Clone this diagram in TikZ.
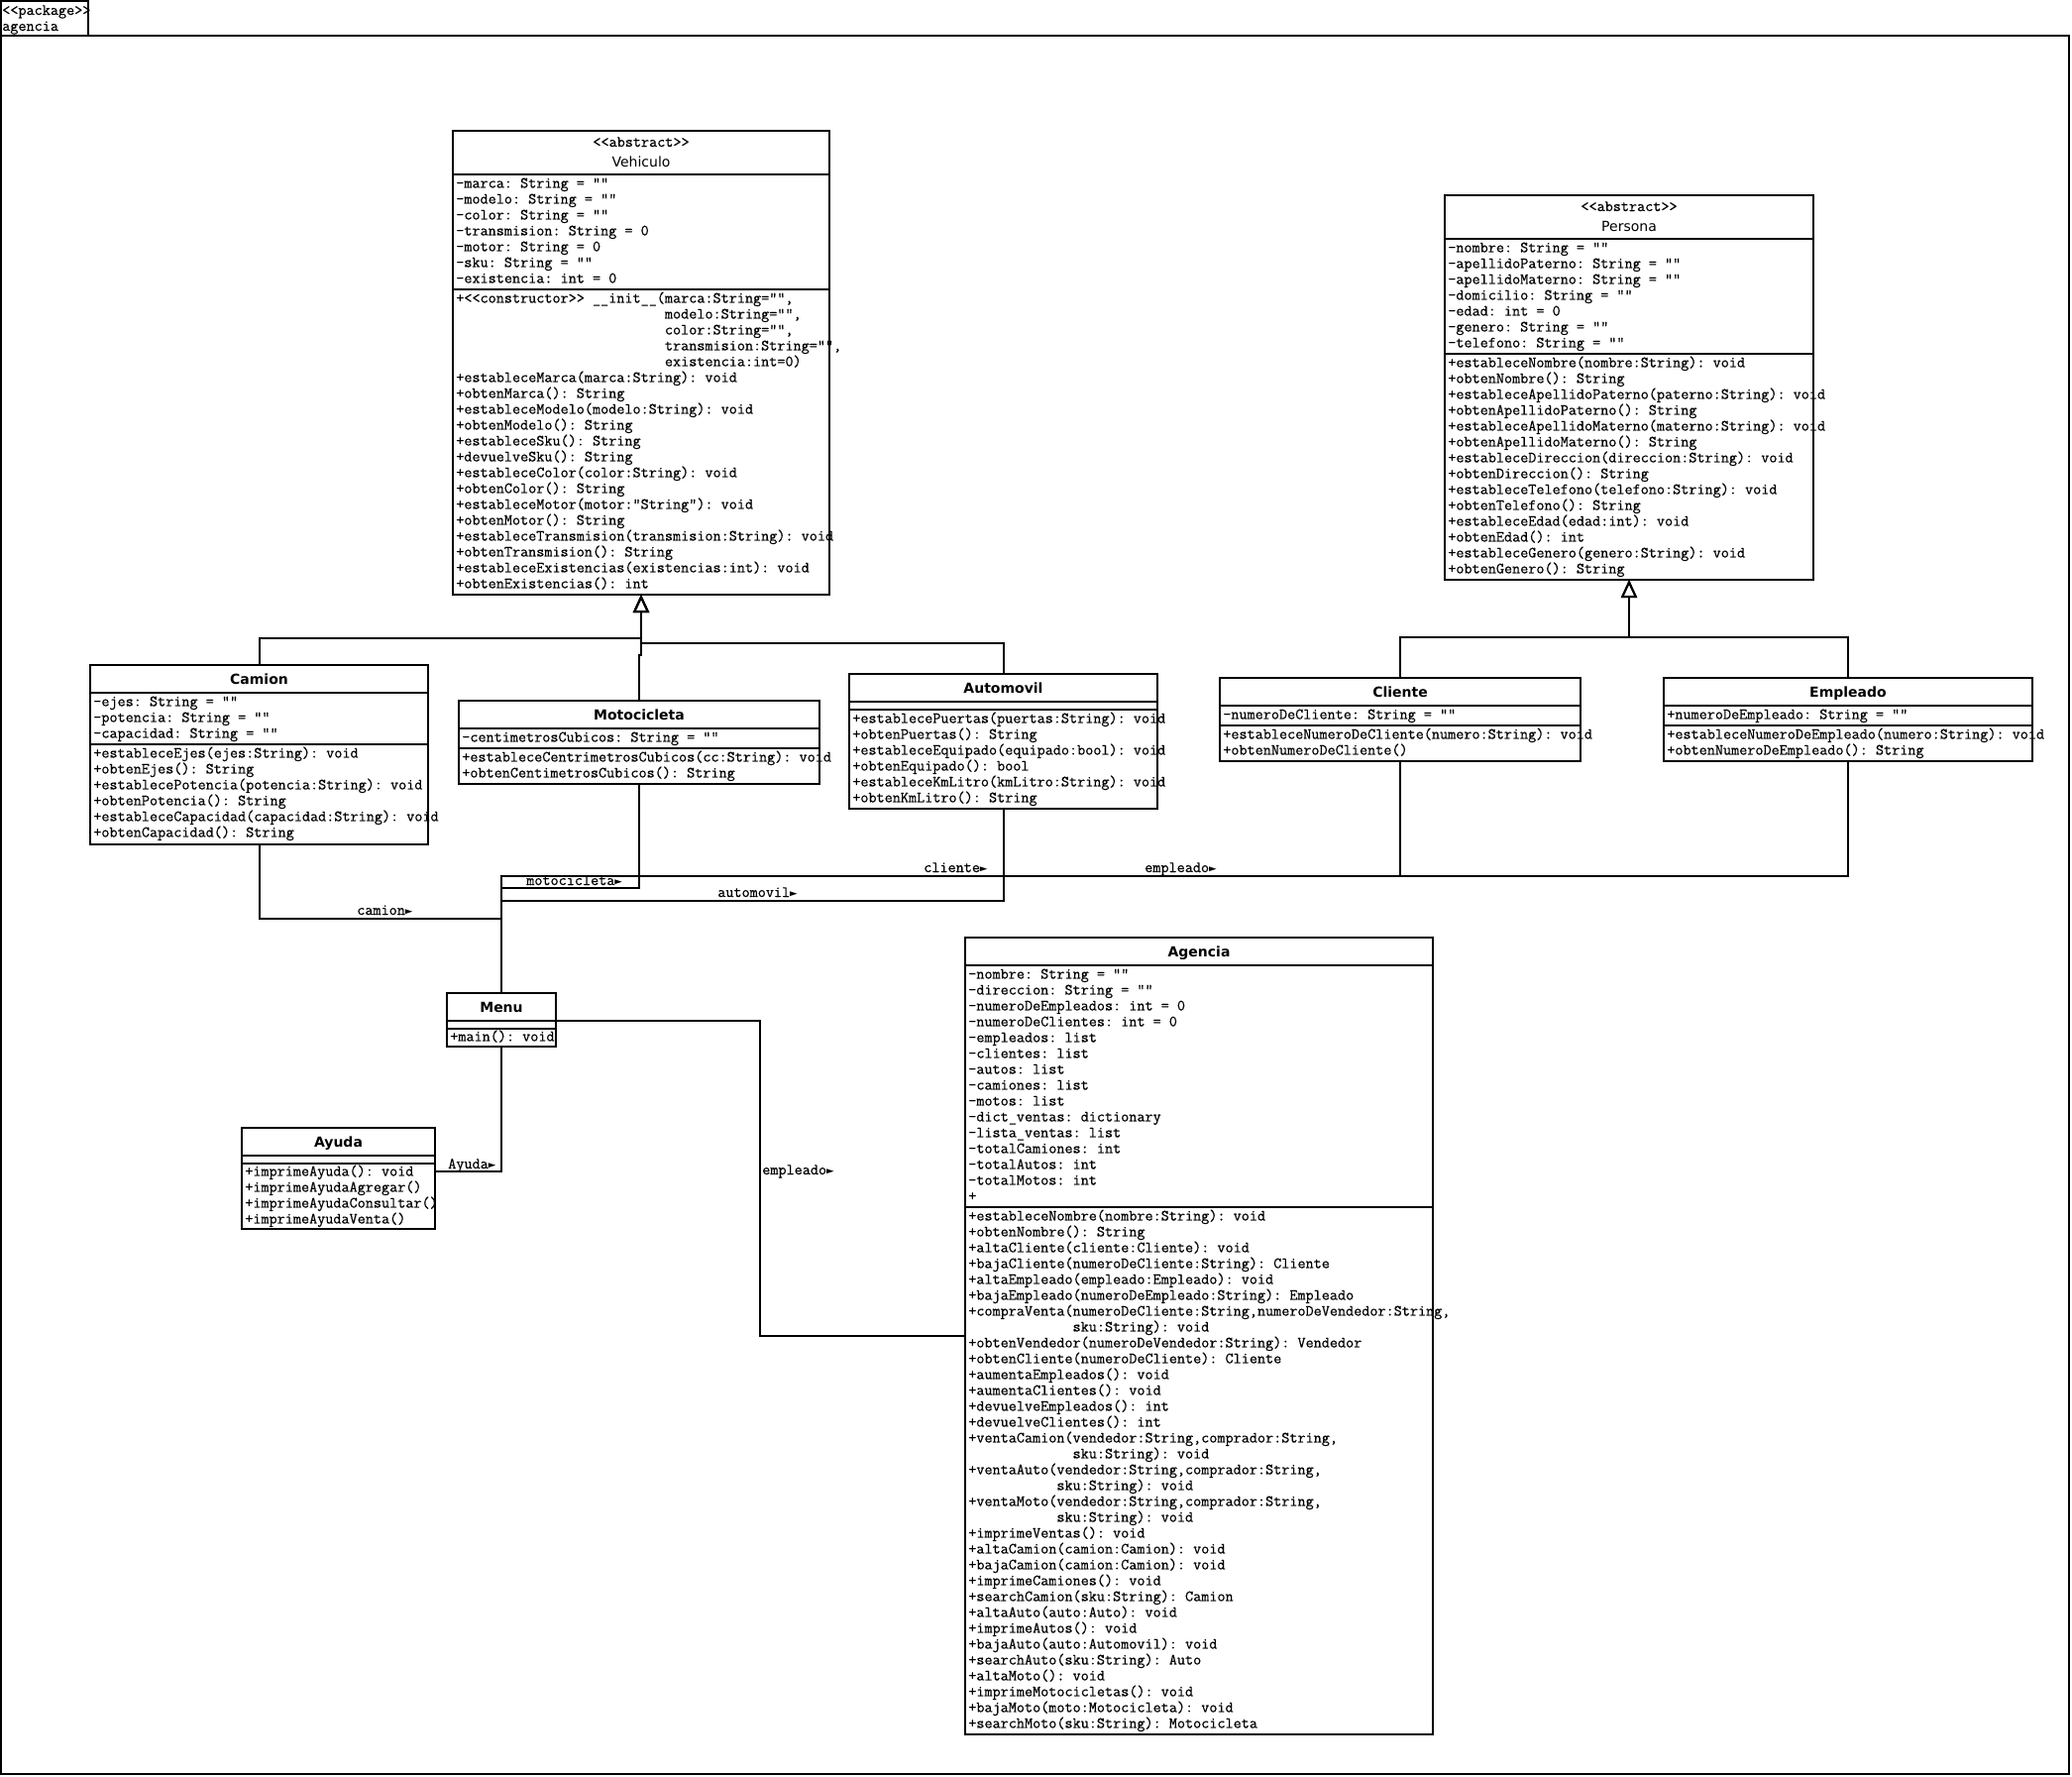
\documentclass[tikz,border=0pt]{standalone}
\usepackage{fontspec}
\setmonofont{Latin Modern Mono}[FakeBold=0.6]
\newfontfamily\clsfont{DejaVu Sans}
\newfontfamily\arrfont{DejaVu Sans Mono}
\usetikzlibrary{arrows.meta,calc}
\newcommand\rows[1]{\begin{tabular}{@{}l@{}}#1\end{tabular}}
\newcommand\tri{{\arrfont\fontsize{9.5}{12}\selectfont ►}}
\newcommand\monofs{\ttfamily\fontsize{11.8}{12}\selectfont}
\begin{document}
\begin{tikzpicture}[x=0.75pt,y=-0.75pt,
  cls/.style 2 args={draw, line width=1.5pt, inner sep=0pt, outer sep=0pt, anchor=north west, minimum width=#1*0.75pt, minimum height=#2*0.75pt},
  comp/.style={anchor=north west, inner sep=0pt, font=\monofs},
  cname/.style={anchor=base, inner sep=0pt, font=\clsfont\bfseries\fontsize{10.5}{12}\selectfont},
  aname/.style={anchor=base, inner sep=0pt, font=\clsfont\fontsize{10.5}{12}\selectfont},
  stereo/.style={anchor=base, inner sep=0pt, font=\monofs},
  lbl/.style={anchor=base west, inner sep=0pt, font=\monofs},
  sepline/.style={line width=1.5pt},
  conn/.style={line width=1.5pt},
  gen/.style={line width=1.5pt, -{Triangle[open, length=13.5pt, width=12pt]}}
]
\useasboundingbox (0,0) rectangle (2091,1792);

% package frame
\node[cls={88}{35}] (pkgtab) at (1,1) {};
\node[cls={2087}{1754}] (pkg) at (1,36) {};
\node[lbl] (pkg-st) at (2,15) {<<package>>};
\node[lbl] (pkg-name) at (2,31) {agencia};

% Vehiculo
\node[cls={380}{468}] (veh) at (457,132) {};
\draw[sepline] (veh.north west) ++(0,44) -- ++(380,0);
\draw[sepline] (veh.north west) ++(0,160) -- ++(380,0);
\node[stereo] (veh-st) at ($(veh.north)+(0,16)$) {<<abstract>>};
\node[aname] (veh-n) at ($(veh.north)+(0,36)$) {Vehiculo};
\node[comp] (veh-a) at ($(veh.north west)+(3,46)$) {\rows{%
-marca: String = ""\\
-modelo: String = ""\\
-color: String = ""\\
-transmision: String = 0\\
-motor: String = 0\\
-sku: String = ""\\
-existencia: int = 0}};
\node[comp] (veh-m) at ($(veh.north west)+(3,162)$) {\rows{%
+<<constructor>> \_\_init\_\_(marca:String="",\\
\phantom{+<<constructor>> \_\_init\_\_(}modelo:String="",\\
\phantom{+<<constructor>> \_\_init\_\_(}color:String="",\\
\phantom{+<<constructor>> \_\_init\_\_(}transmision:String="",\\
\phantom{+<<constructor>> \_\_init\_\_(}existencia:int=0)\\
+estableceMarca(marca:String): void\\
+obtenMarca(): String\\
+estableceModelo(modelo:String): void\\
+obtenModelo(): String\\
+estableceSku(): String\\
+devuelveSku(): String\\
+estableceColor(color:String): void\\
+obtenColor(): String\\
+estableceMotor(motor:"String"): void\\
+obtenMotor(): String\\
+estableceTransmision(transmision:String): void\\
+obtenTransmision(): String\\
+estableceExistencias(existencias:int): void\\
+obtenExistencias(): int}};

% Persona
\node[cls={372}{388}] (per) at (1458,197) {};
\draw[sepline] (per.north west) ++(0,44) -- ++(372,0);
\draw[sepline] (per.north west) ++(0,160) -- ++(372,0);
\node[stereo] (per-st) at ($(per.north)+(0,16)$) {<<abstract>>};
\node[aname] (per-n) at ($(per.north)+(0,36)$) {Persona};
\node[comp] (per-a) at ($(per.north west)+(3,46)$) {\rows{%
-nombre: String = ""\\
-apellidoPaterno: String = ""\\
-apellidoMaterno: String = ""\\
-domicilio: String = ""\\
-edad: int = 0\\
-genero: String = ""\\
-telefono: String = ""}};
\node[comp] (per-m) at ($(per.north west)+(3,162)$) {\rows{%
+estableceNombre(nombre:String): void\\
+obtenNombre(): String\\
+estableceApellidoPaterno(paterno:String): void\\
+obtenApellidoPaterno(): String\\
+estableceApellidoMaterno(materno:String): void\\
+obtenApellidoMaterno(): String\\
+estableceDireccion(direccion:String): void\\
+obtenDireccion(): String\\
+estableceTelefono(telefono:String): void\\
+obtenTelefono(): String\\
+estableceEdad(edad:int): void\\
+obtenEdad(): int\\
+estableceGenero(genero:String): void\\
+obtenGenero(): String}};

% Camion
\node[cls={341}{181}] (cam) at (91,671) {};
\draw[sepline] (cam.north west) ++(0,28) -- ++(341,0);
\draw[sepline] (cam.north west) ++(0,80) -- ++(341,0);
\node[cname] (cam-n) at ($(cam.north)+(0,19)$) {Camion};
\node[comp] (cam-a) at ($(cam.north west)+(3,30)$) {\rows{%
-ejes: String = ""\\
-potencia: String = ""\\
-capacidad: String = ""}};
\node[comp] (cam-m) at ($(cam.north west)+(3,82)$) {\rows{%
+estableceEjes(ejes:String): void\\
+obtenEjes(): String\\
+establecePotencia(potencia:String): void\\
+obtenPotencia(): String\\
+estableceCapacidad(capacidad:String): void\\
+obtenCapacidad(): String}};

% Motocicleta
\node[cls={364}{84}] (mot) at (463,707) {};
\draw[sepline] (mot.north west) ++(0,28) -- ++(364,0);
\draw[sepline] (mot.north west) ++(0,48) -- ++(364,0);
\node[cname] (mot-n) at ($(mot.north)+(0,19)$) {Motocicleta};
\node[comp] (mot-a) at ($(mot.north west)+(3,30)$) {\rows{%
-centimetrosCubicos: String = ""}};
\node[comp] (mot-m) at ($(mot.north west)+(3,50)$) {\rows{%
+estableceCentrimetrosCubicos(cc:String): void\\
+obtenCentimetrosCubicos(): String}};

% Automovil
\node[cls={311}{136}] (aut) at (857,680) {};
\draw[sepline] (aut.north west) ++(0,28) -- ++(311,0);
\draw[sepline] (aut.north west) ++(0,36) -- ++(311,0);
\node[cname] (aut-n) at ($(aut.north)+(0,19)$) {Automovil};
\node[comp] (aut-m) at ($(aut.north west)+(3,38)$) {\rows{%
+establecePuertas(puertas:String): void\\
+obtenPuertas(): String\\
+estableceEquipado(equipado:bool): void\\
+obtenEquipado(): bool\\
+estableceKmLitro(kmLitro:String): void\\
+obtenKmLitro(): String}};

% Cliente
\node[cls={364}{84}] (cli) at (1231,684) {};
\draw[sepline] (cli.north west) ++(0,28) -- ++(364,0);
\draw[sepline] (cli.north west) ++(0,48) -- ++(364,0);
\node[cname] (cli-n) at ($(cli.north)+(0,19)$) {Cliente};
\node[comp] (cli-a) at ($(cli.north west)+(3,30)$) {\rows{%
-numeroDeCliente: String = ""}};
\node[comp] (cli-m) at ($(cli.north west)+(3,50)$) {\rows{%
+estableceNumeroDeCliente(numero:String): void\\
+obtenNumeroDeCliente()}};

% Empleado
\node[cls={372}{84}] (emp) at (1679,684) {};
\draw[sepline] (emp.north west) ++(0,28) -- ++(372,0);
\draw[sepline] (emp.north west) ++(0,48) -- ++(372,0);
\node[cname] (emp-n) at ($(emp.north)+(0,19)$) {Empleado};
\node[comp] (emp-a) at ($(emp.north west)+(3,30)$) {\rows{%
+numeroDeEmpleado: String = ""}};
\node[comp] (emp-m) at ($(emp.north west)+(3,50)$) {\rows{%
+estableceNumeroDeEmpleado(numero:String): void\\
+obtenNumeroDeEmpleado(): String}};

% Menu
\node[cls={110}{54}] (men) at (451,1002) {};
\draw[sepline] (men.north west) ++(0,28) -- ++(110,0);
\draw[sepline] (men.north west) ++(0,36) -- ++(110,0);
\node[cname] (men-n) at ($(men.north)+(0,19)$) {Menu};
\node[comp] (men-m) at ($(men.north west)+(3,37)$) {\rows{+main(): void}};

% Ayuda
\node[cls={195}{102}] (ayu) at (244,1138) {};
\draw[sepline] (ayu.north west) ++(0,28) -- ++(195,0);
\draw[sepline] (ayu.north west) ++(0,36) -- ++(195,0);
\node[cname] (ayu-n) at ($(ayu.north)+(0,19)$) {Ayuda};
\node[comp] (ayu-m) at ($(ayu.north west)+(3,37)$) {\rows{%
+imprimeAyuda(): void\\
+imprimeAyudaAgregar()\\
+imprimeAyudaConsultar()\\
+imprimeAyudaVenta()}};

% Agencia
\node[cls={472}{804}] (age) at (974,946) {};
\draw[sepline] (age.north west) ++(0,28) -- ++(472,0);
\draw[sepline] (age.north west) ++(0,272) -- ++(472,0);
\node[cname] (age-n) at ($(age.north)+(0,19)$) {Agencia};
\node[comp] (age-a) at ($(age.north west)+(3,30)$) {\rows{%
-nombre: String = ""\\
-direccion: String = ""\\
-numeroDeEmpleados: int = 0\\
-numeroDeClientes: int = 0\\
-empleados: list\\
-clientes: list\\
-autos: list\\
-camiones: list\\
-motos: list\\
-dict\_ventas: dictionary\\
-lista\_ventas: list\\
-totalCamiones: int\\
-totalAutos: int\\
-totalMotos: int\\
+}};
\node[comp] (age-m) at ($(age.north west)+(3,274)$) {\rows{%
+estableceNombre(nombre:String): void\\
+obtenNombre(): String\\
+altaCliente(cliente:Cliente): void\\
+bajaCliente(numeroDeCliente:String): Cliente\\
+altaEmpleado(empleado:Empleado): void\\
+bajaEmpleado(numeroDeEmpleado:String): Empleado\\
+compraVenta(numeroDeCliente:String,numeroDeVendedor:String,\\
\phantom{+compraVenta(}sku:String): void\\
+obtenVendedor(numeroDeVendedor:String): Vendedor\\
+obtenCliente(numeroDeCliente): Cliente\\
+aumentaEmpleados(): void\\
+aumentaClientes(): void\\
+devuelveEmpleados(): int\\
+devuelveClientes(): int\\
+ventaCamion(vendedor:String,comprador:String,\\
\phantom{+ventaCamion(}sku:String): void\\
+ventaAuto(vendedor:String,comprador:String,\\
\phantom{+ventaAuto(}sku:String): void\\
+ventaMoto(vendedor:String,comprador:String,\\
\phantom{+ventaMoto(}sku:String): void\\
+imprimeVentas(): void\\
+altaCamion(camion:Camion): void\\
+bajaCamion(camion:Camion): void\\
+imprimeCamiones(): void\\
+searchCamion(sku:String): Camion\\
+altaAuto(auto:Auto): void\\
+imprimeAutos(): void\\
+bajaAuto(auto:Automovil): void\\
+searchAuto(sku:String): Auto\\
+altaMoto(): void\\
+imprimeMotocicletas(): void\\
+bajaMoto(moto:Motocicleta): void\\
+searchMoto(sku:String): Motocicleta}};

% generalizations
\draw[gen] (cam.north) |- ($(veh.south)+(0,44)$) -- (veh.south);
\draw[gen] (mot.north) -- ++(0,-46) -| (veh.south);
\draw[gen] (aut.north) |- ($(veh.south)+(0,49)$) -- (veh.south);
\draw[gen] (cli.north) |- ($(per.south)+(0,58)$) -- (per.south);
\draw[gen] (emp.north) |- ($(per.south)+(0,58)$) -- (per.south);

% associations
\draw[conn] (cam.south) -- ++(0,75) -| (men.north);
\draw[conn] (mot.south) -- ++(0,105) -| (men.north);
\draw[conn] (aut.south) -- ++(0,93) -| (men.north);
\draw[conn] (cli.south) -- ++(0,116) -| (men.north);
\draw[conn] (emp.south) -- ++(0,116) -| (men.north);
\draw[conn] (men.south) |- ($(ayu.north east)+(0,44)$);
\draw[conn] ($(men.north east)+(0,28)$) -| ($(age.west)+(-207,0)$) -- (age.west);

% association labels
\node[lbl] (l-cam) at (360,923) {camion\tri};
\node[lbl] (l-mot) at (531,893) {motocicleta\tri};
\node[lbl] (l-aut) at (724,905) {automovil\tri};
\node[lbl] (l-cli) at (932,880) {cliente\tri};
\node[lbl] (l-emp) at (1155,880) {empleado\tri};
\node[lbl] (l-ayu) at (452,1179) {Ayuda\tri};
\node[lbl] (l-age) at (769,1185) {empleado\tri};
\end{tikzpicture}
\end{document}
